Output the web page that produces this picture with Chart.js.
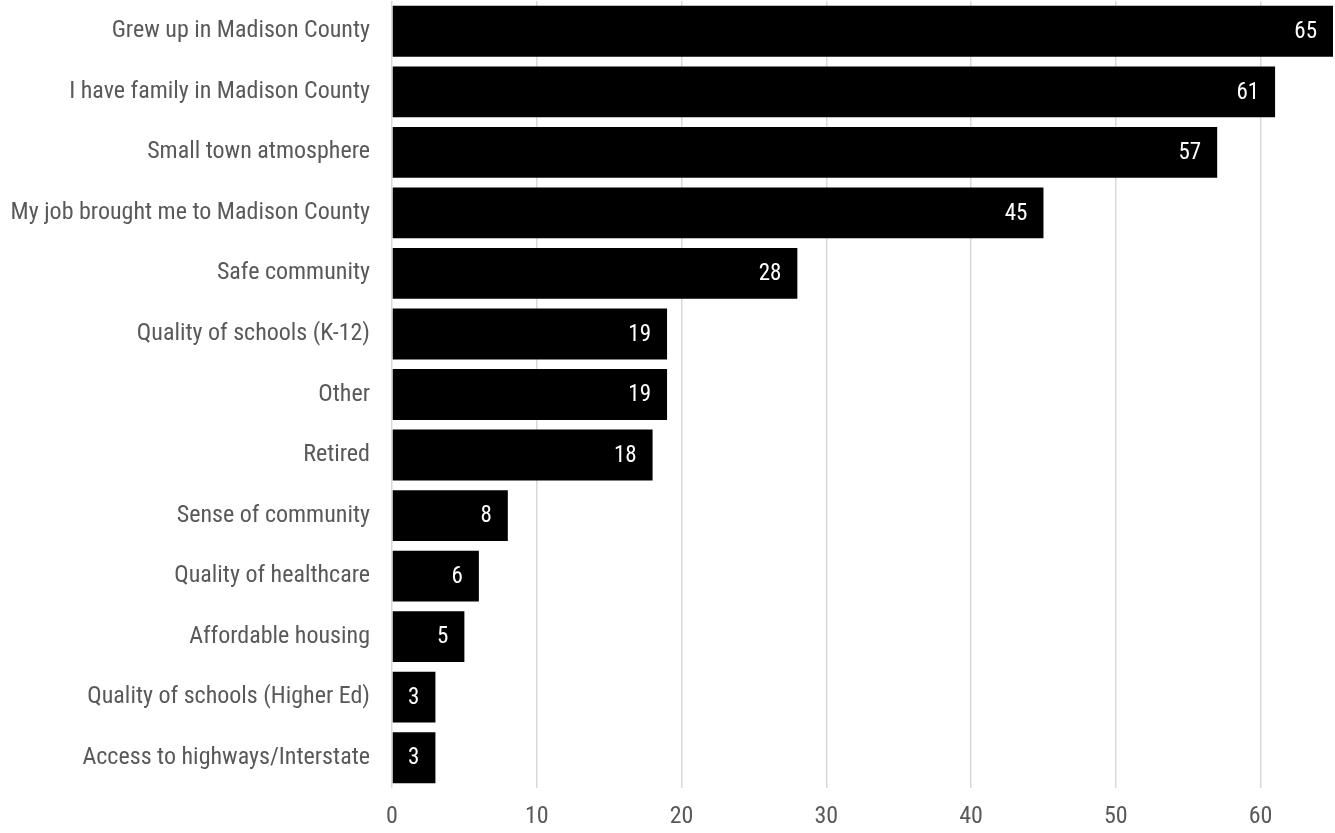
<!DOCTYPE html>
<html>
<head>
<meta charset="utf-8">
<script src="https://cdn.jsdelivr.net/npm/chart.js@4/dist/chart.umd.min.js"></script>
<style>
  html, body { margin: 0; padding: 0; background: #fff; }
  #wrap { width: 1335px; height: 833px; position: relative; }
</style>
</head>
<body>
<div id="wrap"><canvas id="reasonsChart"></canvas></div>
<script>
const categories = [
  'Grew up in Madison County',
  'I have family in Madison County',
  'Small town atmosphere',
  'My job brought me to Madison County',
  'Safe community',
  'Quality of schools (K-12)',
  'Other',
  'Retired',
  'Sense of community',
  'Quality of healthcare',
  'Affordable housing',
  'Quality of schools (Higher Ed)',
  'Access to highways/Interstate'
];
const counts = [65, 61, 57, 45, 28, 19, 19, 18, 8, 6, 5, 3, 3];
const xTicks = [0, 10, 20, 30, 40, 50, 60];

const FONT = "'Roboto Condensed', 'Liberation Sans Narrow', Roboto, sans-serif";

// value labels drawn inside the end of each bar
const barValues = {
  id: 'barValues',
  afterDatasetsDraw(chart) {
    const ctx = chart.ctx;
    const meta = chart.getDatasetMeta(0);
    ctx.save();
    ctx.fillStyle = '#ffffff';
    ctx.font = '23px ' + FONT;
    ctx.textAlign = 'right';
    ctx.textBaseline = 'middle';
    meta.data.forEach((bar, i) => {
      ctx.fillText(String(counts[i]), bar.x - 16, bar.y + 1);
    });
    ctx.restore();
  }
};

new Chart(document.getElementById('reasonsChart'), {
  type: 'bar',
  data: {
    labels: categories,
    datasets: [{
      data: counts,
      backgroundColor: '#000000',
      borderWidth: 0,
      barPercentage: 0.84,
      categoryPercentage: 1
    }]
  },
  plugins: [barValues],
  options: {
    indexAxis: 'y',
    responsive: true,
    maintainAspectRatio: false,
    animation: false,
    layout: { padding: { top: 1, right: 2, left: 0, bottom: 0 } },
    plugins: {
      legend: { display: false },
      tooltip: { enabled: false }
    },
    scales: {
      x: {
        min: 0,
        max: 65,
        afterBuildTicks: axis => { axis.ticks = xTicks.map(v => ({ value: v })); },
        afterFit: scale => { scale.height = 45; },
        grid: { color: '#d9d9d9', lineWidth: 1.5, drawTicks: false },
        border: { display: false },
        ticks: { color: '#595959', font: { family: FONT, size: 24 }, padding: 15 }
      },
      y: {
        grid: { display: false, drawTicks: false },
        border: { display: false },
        ticks: { color: '#595959', font: { family: FONT, size: 24 }, padding: 22 },
        afterFit: scale => {
          // keep labels from pushing the plot down, fix left edge at 392
          scale.paddingTop = 0;
          scale.paddingBottom = 0;
          scale.width = 392;
        }
      }
    }
  }
});
</script>
</body>
</html>
